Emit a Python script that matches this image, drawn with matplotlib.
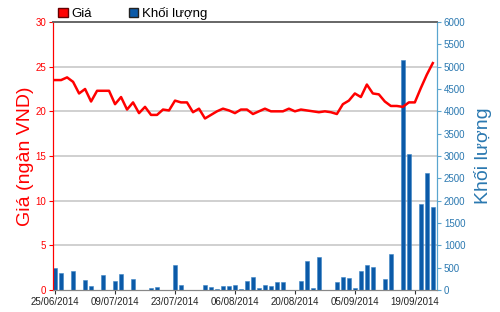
import matplotlib.pyplot as plt
import numpy as np
from matplotlib.patches import Patch

# trading-day index 0..63 (25/06/2014 .. 24/09/2014)
date_labels = ['25/06/2014', '09/07/2014', '23/07/2014', '06/08/2014',
               '20/08/2014', '05/09/2014', '19/09/2014']
label_pos = [0, 10, 20, 30, 40, 50, 60]

price = [23.5, 23.5, 23.8, 23.3, 22.0, 22.5, 21.1, 22.3, 22.3, 22.3,
         20.8, 21.6, 20.2, 21.0, 19.8, 20.5, 19.6, 19.6, 20.2, 20.1,
         21.2, 21.0, 21.0, 19.9, 20.3, 19.2, 19.6, 20.0, 20.3, 20.1,
         19.8, 20.2, 20.2, 19.7, 20.0, 20.3, 20.0, 20.0, 20.0, 20.3,
         20.0, 20.2, 20.1, 20.0, 19.9, 20.0, 19.9, 19.7, 20.8, 21.2,
         22.0, 21.6, 23.0, 22.0, 21.9, 21.1, 20.6, 20.6, 20.5, 21.0,
         21.0, 22.6, 24.1, 25.4]

volume = [490, 380, 0, 430, 0, 215, 96, 0, 336, 0,
          193, 358, 0, 246, 0, 0, 45, 75, 0, 0,
          555, 110, 0, 0, 0, 110, 78, 30, 92, 92,
          110, 30, 200, 290, 40, 110, 95, 170, 170, 0,
          0, 195, 650, 45, 740, 0, 0, 170, 290, 265,
          55, 430, 555, 525, 0, 250, 810, 0, 5150, 3040,
          0, 1920, 2630, 1855]

RED = '#ff0000'
BLUE = '#0b5aa8'
AXBLUE = '#5aa5cf'
TXTBLUE = '#2a78b0'

x = np.arange(len(price))

fig = plt.figure(figsize=(5, 3.12), dpi=100)
ax = fig.add_axes([0.106, 0.0705, 0.768, 0.859])
ax2 = ax.twinx()

# volume bars on the right axis, drawn beneath the price line
ax2.bar(x, volume, width=0.6, color=BLUE, edgecolor='#3d85c6', linewidth=0.4,
        zorder=2)
ax2.set_ylim(0, 6000)
ax2.set_yticks(np.arange(0, 6001, 500))

ax.set_zorder(ax2.get_zorder() + 1)
ax.patch.set_visible(False)
ax.plot(x, price, color=RED, lw=1.8, zorder=5)
ax.set_ylim(0, 30)
ax.set_yticks(np.arange(0, 31, 5))
ax.set_xlim(-0.35, 63.7)
ax.set_xticks(label_pos)
ax.set_xticklabels(date_labels)

# gridlines drawn on the back axes
for v in range(1000, 6000, 1000):
    ax2.axhline(v, color='#d0d0d0', lw=1.4, zorder=0)

for a in (ax, ax2):
    a.spines['top'].set_color('#666666')
    a.spines['top'].set_linewidth(1.2)
    a.spines['bottom'].set_color('#888888')
    a.spines['left'].set_color(RED)
    a.spines['right'].set_color(AXBLUE)

ax.tick_params(axis='y', colors=RED, labelsize=7, length=3, pad=2)
ax.tick_params(axis='x', colors='#333333', labelsize=7, length=3, pad=2)
ax2.tick_params(axis='y', colors=AXBLUE, labelcolor=TXTBLUE, labelsize=7,
                length=3, pad=2)
for lab in ax.get_xticklabels():
    lab.set_color('#222222')

font = ['Liberation Sans', 'DejaVu Sans']
for lab in ax.get_xticklabels() + ax.get_yticklabels() + ax2.get_yticklabels():
    lab.set_family(font)

ax.set_ylabel('Giá (ngàn VND)', color=RED, fontsize=14, family=font,
              labelpad=1)
ax2.set_ylabel('Khối lượng', color=TXTBLUE, fontsize=14, family=font,
               labelpad=6)

handles = [Patch(facecolor=RED, edgecolor='#660000', label='Giá'),
           Patch(facecolor=BLUE, edgecolor='#222222', label='Khối lượng')]
fig.legend(handles=handles, loc='upper left', bbox_to_anchor=(0.093, 1.015),
           ncol=2, frameon=False, prop={'family': font, 'size': 9.5},
           handlelength=0.7, handleheight=0.7, handletextpad=0.3,
           columnspacing=2.8)

fig.savefig('out.png', dpi=100)
